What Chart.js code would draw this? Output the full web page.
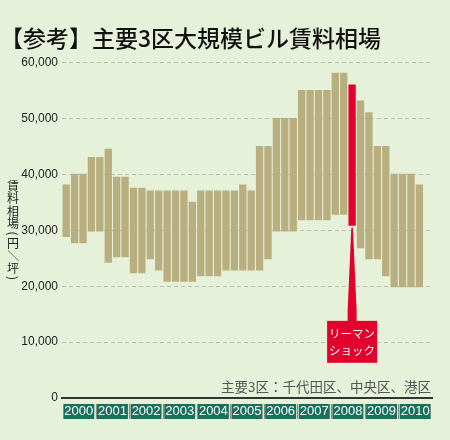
<!DOCTYPE html>
<html>
<head>
<meta charset="utf-8">
<script src="https://cdn.jsdelivr.net/npm/chart.js@4.4.1/dist/chart.umd.min.js"></script>
<style>
  html, body { margin: 0; padding: 0; background: #e6f1d9; }
  #wrap { width: 450px; height: 440px; }
</style>
</head>
<body>
<div id="wrap"><canvas id="rent" width="450" height="440"></canvas></div>
<script>
const years = ["2000", "2001", "2002", "2003", "2004", "2005", "2006", "2007", "2008", "2009", "2010"];
// quarterly range of rents (yen per tsubo), 2000Q1 - 2010Q3
const rentLow = [28800, 27700, 27700, 29800, 29800, 24200, 25200, 25200, 22300, 22300, 24800,
  22800, 20800, 20800, 20800, 20800, 21800, 21800, 21800, 22800, 22800, 22800, 22800, 22800,
  24800, 29800, 29800, 29800, 31800, 31800, 31800, 31800, 32800, 32800, 30800, 26800, 24800,
  24800, 21800, 19800, 19800, 19800, 19800, null];
const rentHigh = [38200, 40100, 40100, 43100, 43100, 44600, 39600, 39600, 37600, 37600, 37100,
  37100, 37100, 37100, 37100, 35100, 37100, 37100, 37100, 37100, 37100, 38200, 37100, 45100,
  45100, 50100, 50100, 50100, 55100, 55100, 55100, 55100, 58200, 58200, 56100, 53200, 51100,
  45100, 45100, 40100, 40100, 40100, 38200, null];
const yTicks = [0, 10000, 20000, 30000, 40000, 50000, 60000];
const shockIndex = 34; // 2008 Q3

const quarters = [];
years.forEach(y => { for (let q = 1; q <= 4; q++) quarters.push(y + "Q" + q); });
const ranges = rentLow.map((lo, i) => lo == null ? null : [lo, rentHigh[i]]);

const TAN = "#b9ae7f";
const RED = "#e2002c";
const GREEN = "#17705a";
const JP = "'Noto Sans CJK JP', sans-serif";
const NUM = "'Liberation Sans Narrow', 'Liberation Sans', Arial, sans-serif";

const extras = {
  id: "extras",
  afterDraw(chart) {
    const { ctx, chartArea, scales } = chart;
    const y = scales.y;
    ctx.save();

    // vertical axis title, written top to bottom
    const label = "賃料相場(円／坪)";
    ctx.font = "12px " + JP;
    ctx.fillStyle = "#222";
    ctx.textAlign = "center";
    ctx.textBaseline = "middle";
    let cy = 180;
    for (const ch of label) {
      const paren = ch === "(" || ch === ")";
      const adv = paren ? 7 : 12.5;
      const mid = cy + adv / 2;
      if (paren || ch === "／") {
        ctx.save();
        ctx.translate(13, mid);
        ctx.rotate(Math.PI / 2);
        ctx.fillText(ch, 0, 0);
        ctx.restore();
      } else {
        ctx.fillText(ch, 13, mid);
      }
      cy += adv;
    }

    // note
    ctx.font = "13.5px " + JP;
    ctx.fillStyle = "#555";
    ctx.textAlign = "right";
    ctx.textBaseline = "alphabetic";
    ctx.fillText("主要3区：千代田区、中央区、港区", chartArea.right - 1, chartArea.bottom - 6);

    // Lehman shock callout
    const bar = chart.getDatasetMeta(0).data[shockIndex];
    const bx = bar.x;
    const top = bar.base + 2;
    const boxTop = y.getPixelForValue(13800);
    const boxBot = y.getPixelForValue(6300);
    const flare = y.getPixelForValue(15600);
    ctx.fillStyle = RED;
    ctx.beginPath();
    ctx.moveTo(bx - 0.8, top);
    ctx.lineTo(bx + 0.8, top);
    ctx.lineTo(bx + 4.5, flare);
    ctx.lineTo(bx + 4.5, boxTop + 1);
    ctx.lineTo(bx - 4.5, boxTop + 1);
    ctx.lineTo(bx - 4.5, flare);
    ctx.closePath();
    ctx.fill();
    ctx.fillRect(bx - 25, boxTop, 50, boxBot - boxTop);
    ctx.fillStyle = "#fff";
    ctx.textAlign = "center";
    ctx.textBaseline = "middle";
    ctx.font = "11.5px " + JP;
    const mid = (boxTop + boxBot) / 2;
    ctx.fillText("リーマン", bx, mid - 8.5);
    ctx.fillText("ショック", bx, mid + 8.5);

    // separators between year boxes
    const yr = scales.years;
    ctx.strokeStyle = "#8c8c80";
    ctx.lineWidth = 1.2;
    for (let i = 1; i < years.length; i++) {
      const sx = Math.round((yr.getPixelForTick(i - 1) + yr.getPixelForTick(i)) / 2) + 0.5;
      ctx.beginPath();
      ctx.moveTo(sx, chartArea.bottom + 6);
      ctx.lineTo(sx, chartArea.bottom + 21);
      ctx.stroke();
    }
    ctx.restore();
  }
};

new Chart(document.getElementById("rent"), {
  type: "bar",
  data: {
    labels: quarters,
    datasets: [{
      data: ranges,
      backgroundColor: ranges.map((r, i) => i === shockIndex ? RED : TAN),
      borderWidth: 0,
      categoryPercentage: 1,
      barPercentage: 0.87
    }]
  },
  options: {
    responsive: false,
    animation: false,
    layout: { padding: { left: 0, right: 18, top: 0, bottom: 18 } },
    plugins: {
      legend: { display: false },
      tooltip: { enabled: false },
      title: {
        display: true,
        text: "【参考】主要3区大規模ビル賃料相場",
        align: "start",
        color: "#111",
        font: { family: JP, size: 23, weight: "500" },
        padding: { top: 24, bottom: 11 }
      }
    },
    scales: {
      x: {
        offset: true,
        weight: 0,
        afterFit(scale) { scale.height = 2; },
        grid: { display: false, drawTicks: false },
        ticks: { display: false },
        border: { display: true, color: "#333", width: 2 }
      },
      years: {
        type: "category",
        labels: years,
        position: "bottom",
        offset: true,
        weight: 1,
        afterFit(scale) { scale.height = 22; },
        grid: { display: false, drawTicks: false },
        border: { display: false },
        ticks: {
          color: "#fff",
          autoSkip: false,
          maxRotation: 0,
          padding: 5,
          font: { family: NUM, size: 13, lineHeight: 1 },
          showLabelBackdrop: true,
          backdropColor: GREEN,
          backdropPadding: { x: 1, y: 1 }
        }
      },
      y: {
        min: 0,
        max: 60000,
        afterFit(scale) { scale.width = 62; },
        afterBuildTicks(scale) { scale.ticks = yTicks.map(v => ({ value: v })); },
        grid: {
          drawTicks: false,
          color: c => c.tick && c.tick.value === 0 ? "rgba(0,0,0,0)" : "#bdbdb0",
          lineWidth: 1
        },
        border: { display: false, dash: [4, 3] },
        ticks: {
          color: "#222",
          padding: 4,
          font: { family: NUM, size: 12 },
          callback: v => v.toLocaleString("en-US")
        }
      }
    }
  },
  plugins: [extras]
});
</script>
</body>
</html>
